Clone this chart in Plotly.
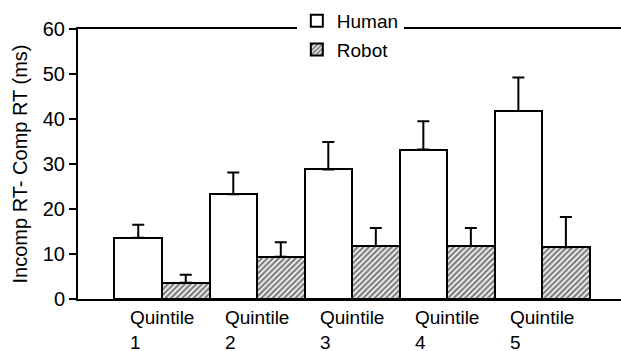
import plotly.graph_objects as go

categories = ["Quintile<br>1", "Quintile<br>2", "Quintile<br>3", "Quintile<br>4", "Quintile<br>5"]
human = [13.6, 23.3, 28.8, 33.2, 41.8]
human_err = [2.9, 4.8, 6.1, 6.3, 7.4]
robot = [3.6, 9.4, 11.8, 11.8, 11.5]
robot_err = [1.8, 3.2, 4.0, 4.0, 6.7]
y_ticks = [0, 10, 20, 30, 40, 50, 60]

FONT = "Liberation Sans, Arial, sans-serif"
xs = list(range(len(categories)))

fig = go.Figure()
fig.add_trace(go.Bar(
    x=xs, y=human, name="Human", legendgroup="h",
    marker=dict(color="white", line=dict(color="black", width=2)),
    error_y=dict(type="data", array=human_err, arrayminus=[0]*5, symmetric=False,
                 color="black", thickness=2, width=6),
))
fig.add_trace(go.Bar(
    x=xs, y=robot, name="Robot", legendgroup="r",
    marker=dict(color="white", line=dict(color="black", width=2),
                pattern=dict(shape="/", fgcolor="black", bgcolor="white",
                             size=4, solidity=0.6, fillmode="overlay")),
    error_y=dict(type="data", array=robot_err, arrayminus=[0]*5, symmetric=False,
                 color="black", thickness=2, width=6),
))

for i, lab in enumerate(categories):
    fig.add_annotation(x=xs[i], y=0, xref="x", yref="y", text=lab, showarrow=False,
                       align="left", xanchor="center", yanchor="top", yshift=-6,
                       font=dict(family=FONT, size=19, color="black"))

fig.update_layout(
    width=621, height=351,
    margin=dict(l=78, r=0, t=29, b=52, autoexpand=False),
    paper_bgcolor="white", plot_bgcolor="white",
    barmode="group", bargap=0, bargroupgap=0,
    font=dict(family=FONT, size=19, color="black"),
    showlegend=True,
    legend=dict(x=0.403, y=1.1, xanchor="left", yanchor="top",
                bgcolor="white", tracegroupgap=1,
                font=dict(family=FONT, size=19, color="black"),
                itemwidth=30),
    xaxis=dict(range=[-0.884, 4.83], showticklabels=False, ticks="",
               showline=True, linecolor="black", linewidth=2, mirror=True,
               showgrid=False, zeroline=False),
    yaxis=dict(range=[0, 60], tickvals=y_ticks, ticks="outside", ticklen=7,
               tickwidth=2, tickcolor="black", showline=True, linecolor="black",
               linewidth=2, showgrid=False, zeroline=False, automargin=False,
               tickfont=dict(family=FONT, size=20, color="black"),
               title=dict(text="Incomp RT- Comp RT (ms)", standoff=10,
                          font=dict(family=FONT, size=20, color="black"))),
)

fig.write_html("out.html", config={"displayModeBar": False},
               post_script="document.body.style.margin='0';document.body.style.overflow='hidden';")
